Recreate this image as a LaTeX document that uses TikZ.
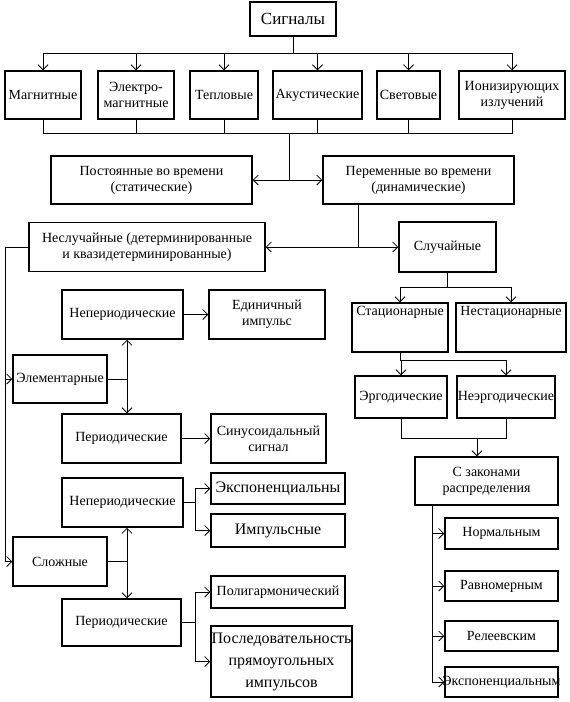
\documentclass[tikz,border=0pt]{standalone}
\usepackage{fontspec}
\setmainfont{Liberation Serif}
\usetikzlibrary{arrows.meta}
\newcommand\mybox[6]{\node[box,minimum width=#4pt,minimum height=#5pt] (#1) at (#2,#3) {#6};}
\newcommand\fs[1]{\fontsize{#1}{#1}\selectfont}
\begin{document}
\begin{tikzpicture}[x=1pt,y=-1pt,
  box/.style={draw, line width=1.5pt, inner sep=1pt, align=center, font=\fontsize{14}{16}\selectfont},
  bigbox/.style={box, font=\fontsize{16}{18}\selectfont},
  ln/.style={line width=0.8pt},
  arr/.style={ln, -{Straight Barb[length=5pt,width=10pt]}},
  toptxt/.style={anchor=north, inner sep=2pt, font=\fontsize{14}{16}\selectfont}]
\useasboundingbox (0,0) rectangle (570,702);
% top level
\mybox{sig}{293}{19}{86}{34}{\fs{17}Сигналы}
\mybox{mag}{43}{95}{76}{48}{Магнитные}
\mybox{elm}{136}{95}{76}{48}{Электро-\\магнитные}
\mybox{tep}{224}{95}{68}{48}{Тепловые}
\mybox{aku}{317.5}{95}{89}{48}{Акустические}
\mybox{svet}{408.5}{95}{63}{48}{Световые}
\mybox{ion}{512}{95}{106}{48}{Ионизирующих\\излучений}
\coordinate (t1) at (293,53);
\draw[ln] (sig.south) -- (t1);
\foreach \n in {mag,elm,tep,aku,svet,ion} \draw[arr] (t1) -| (\n.north);
\coordinate (t2) at (289,133);
\foreach \n in {mag,elm,tep,aku,svet,ion} \draw[ln] (\n.south) |- (t2);
\mybox{post}{151.5}{180}{201}{48}{Постоянные во времени\\(статические)}
\mybox{per}{418.5}{180}{191}{48}{Переменные во времени\\(динамические)}
\coordinate (t3) at (289,180);
\draw[ln] (t2) -- (t3);
\draw[arr] (t3) -- (post.east);
\draw[arr] (t3) -- (per.west);
\mybox{nsl}{147}{247}{236}{49}{Неслучайные (детерминированные\\и квазидетерминированные)}
\mybox{sl}{447.5}{247}{97}{50}{Случайные}
\coordinate (t4) at (358,247);
\draw[ln] (t4 |- per.south) -- (t4);
\draw[arr] (t4) -- (nsl.east);
\draw[arr] (t4) -- (sl.west);
% left branch
\mybox{elem}{60}{379}{94}{48}{Элементарные}
\mybox{slo}{60}{561.5}{94}{49}{Сложные}
\coordinate (lf) at (5,247);
\draw[ln] (nsl.west) -- (lf);
\draw[arr] (lf) |- (elem.west);
\draw[arr] (lf) |- (slo.west);
\mybox{np1}{122.5}{314.5}{121}{49}{Непериодические}
\mybox{ed}{267}{314.5}{116}{49}{Единичный\\импульс}
\mybox{p1}{121.5}{438.5}{119}{49}{Периодические}
\mybox{sin}{268.5}{438.5}{115}{49}{Синусоидальный\\сигнал}
\draw[arr] (np1.east) -- (ed.west);
\draw[arr] (p1.east) -- (sin.west);
\coordinate (m1) at (127,379);
\draw[ln] (elem.east) -- (m1);
\draw[arr] (m1) -- (m1 |- np1.south);
\draw[arr] (m1) -- (m1 |- p1.north);
\mybox{np2}{122.5}{502.5}{121}{49}{Непериодические}
\node[bigbox, minimum width=134pt, minimum height=31pt] (exp) at (278,488.5) {\makebox[120pt][c]{Экспоненциальны}};
\node[bigbox, minimum width=134pt, minimum height=33pt] (imp) at (278,530.5) {Импульсные};
\coordinate (b1) at (195,502.5);
\draw[ln] (np2.east) -- (b1);
\draw[arr] (b1) |- (exp.west);
\draw[arr] (b1) |- (imp.west);
\mybox{p2}{121.5}{622.5}{119}{47}{Периодические}
\mybox{pol}{278}{592}{134}{32}{Полигармонический}
\node[bigbox, font=\fontsize{16}{22}\selectfont, minimum width=141pt, minimum height=71pt] (pos) at (281.5,661.5) {\makebox[130pt][c]{Последовательность}\\прямоугольных\\импульсов};
\coordinate (m2) at (127,561.5);
\draw[ln] (slo.east) -- (m2);
\draw[arr] (m2) -- (m2 |- np2.south);
\draw[arr] (m2) -- (m2 |- p2.north);
\coordinate (b2) at (195,622.5);
\draw[ln] (p2.east) -- (b2);
\draw[arr] (b2) |- (pol.west);
\draw[arr] (b2) |- (pos.west);
% right branch
\mybox{st}{400}{327.5}{96}{49}{}
\mybox{nst}{511}{327.5}{110}{49}{}
\node[toptxt] (stt) at ([yshift=-2pt]st.north) {Стационарные};
\node[toptxt] (nstt) at ([yshift=-2pt]nst.north) {Нестационарные};
\coordinate (r1) at (447.5,287);
\draw[ln] (sl.south) -- (r1);
\draw[arr] (r1) -| (st.north);
\draw[arr] (r1) -| (nst.north);
\mybox{erg}{401}{397}{92}{42}{Эргодические}
\mybox{nerg}{506}{397}{98}{42}{Неэргодические}
\coordinate (r2) at (400,360);
\draw[ln] (st.south) -- (r2);
\draw[arr] (r2) -| (erg.north);
\draw[arr] (r2) -| (nerg.north);
\mybox{zak}{486.5}{481}{143}{48}{С законами\\распределения}
\coordinate (r3) at (477,438);
\draw[ln] (erg.south) -- (erg.south |- r3) -- (nerg.south |- r3) -- (nerg.south);
\draw[arr] (r3) -- (r3 |- zak.north);
\mybox{nor}{501.5}{533.5}{113}{31}{Нормальным}
\mybox{rav}{501.5}{586}{113}{30}{Равномерным}
\mybox{rel}{501.5}{636}{113}{30}{Релеевским}
\mybox{exl}{501.5}{682}{113}{30}{\makebox[100pt][c]{Экспоненциальным}}
\coordinate (r4) at (432,682);
\draw[ln] (r4 |- zak.south) -- (r4);
\foreach \n in {nor,rav,rel,exl} \draw[arr] (r4 |- zak.south) |- (\n.west);
\end{tikzpicture}
\end{document}
